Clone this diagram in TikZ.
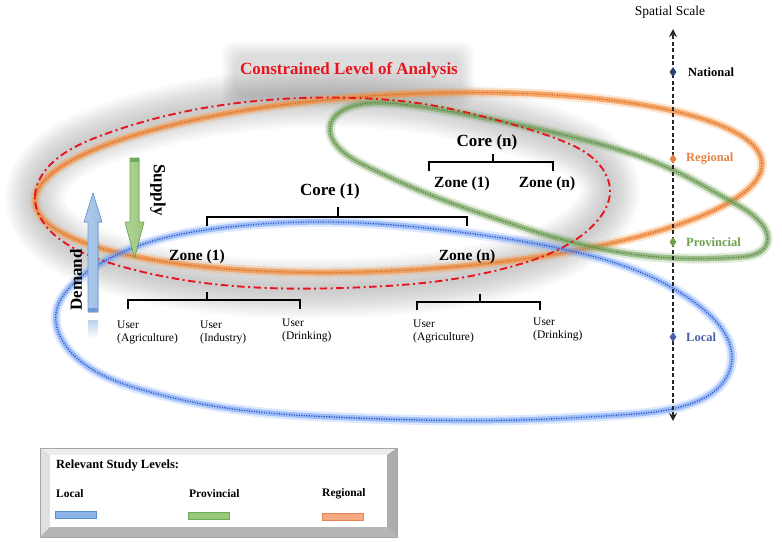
\documentclass[tikz,border=0pt]{standalone}
\usepackage{fontspec}
\setmainfont{Liberation Serif}
\usetikzlibrary{arrows.meta,shapes.geometric,hobby}

\definecolor{regOrange}{RGB}{243,145,65}
\definecolor{regOrangeDark}{RGB}{215,100,30}
\definecolor{provGreen}{RGB}{120,165,95}
\definecolor{provGreenDark}{RGB}{75,130,60}
\definecolor{locBlue}{RGB}{105,155,245}
\definecolor{locBlueDark}{RGB}{45,80,190}
\definecolor{conRed}{RGB}{232,20,30}
\definecolor{axisNavy}{RGB}{45,60,115}
\definecolor{localLabel}{RGB}{75,95,170}
\definecolor{regLabel}{RGB}{228,130,70}
\definecolor{provLabel}{RGB}{110,160,80}
\definecolor{demandFill}{RGB}{155,190,230}
\definecolor{demandEdge}{RGB}{110,155,215}
\definecolor{supplyFill}{RGB}{155,200,125}
\definecolor{supplyEdge}{RGB}{110,170,90}

% outlines of the four study areas
\newcommand{\regionalShape}{[rotate around={3.07:(398.5,182.5)}] (398.5,182.5) ellipse [x radius=364, y radius=88]}
\newcommand{\provincialShape}{plot[closed hobby] coordinates {(330,127) (350,107) (400,104) (480,117) (560,134) (620,150) (673,170) (727,199) (760,222) (767,243) (740,257) (673,258) (612,251) (560,239) (500,220) (433,196) (370,168) (338,147)}}
\newcommand{\localShape}{plot[closed hobby] coordinates {(56,313) (70,287) (103,262) (153,241) (220,228) (333,222) (467,233) (567,250) (640,272) (698,305) (724,332) (732,358) (721,385) (690,404) (620,415) (520,420) (420,420) (333,417) (233,409) (150,392) (90,368) (62,340)}}
\newcommand{\constrainedShape}{plot[closed hobby] coordinates {(35,196) (50,165) (100,136) (183,112) (267,100) (357,98) (430,105) (500,121) (560,140) (597,162) (610,192) (598,220) (567,245) (510,267) (440,281) (367,287) (267,288) (190,281) (120,266) (70,246) (43,222)}}

\tikzset{
  haze/.style={draw=black, opacity=0.014, line join=round},
  bandOuter/.style={line width=10pt, opacity=0.22},
  bandInner/.style={line width=5.5pt, opacity=0.55},
  bandDots/.style={line width=1.3pt, dash pattern=on 1.1pt off 1.4pt},
  dashdot/.style={draw=conRed, line width=1.9pt, dash pattern=on 7.5pt off 3.5pt on 2pt off 3.5pt},
  bracket/.style={draw=black, line width=2pt},
  coreText/.style={font=\bfseries\fontsize{17}{20}\selectfont, inner sep=0pt},
  zoneText/.style={font=\bfseries\fontsize{15.5}{18}\selectfont, inner sep=0pt},
  userText/.style={font=\fontsize{11.5}{13}\selectfont, align=left, anchor=north west, inner sep=0pt},
  scaleMark/.style={diamond, inner sep=0pt, minimum width=7pt, minimum height=10pt},
  scaleLabel/.style={font=\bfseries\fontsize{12.5}{15}\selectfont, anchor=west, inner sep=0pt},
  legendHead/.style={font=\bfseries\fontsize{12.5}{15}\selectfont, anchor=west, inner sep=0pt},
  legendItem/.style={font=\bfseries\fontsize{11.5}{14}\selectfont, anchor=west, inner sep=0pt},
}

\begin{document}
\begin{tikzpicture}[x=1pt,y=-1pt]
\useasboundingbox (0,0) rectangle (782,541);

% soft grey haze along the constrained area
\foreach \w in {60,56,...,8}
  \draw[haze, line width=\w pt] \constrainedShape;
\foreach \d in {0,2,...,12}
  \fill[black, opacity=0.02, rounded corners=12pt] (234-\d,54-\d) rectangle (462+\d,96+\d);

% regional (orange)
\draw[regOrange, bandOuter] \regionalShape;
\draw[regOrange, bandInner, opacity=0.7] \regionalShape;
\draw[regOrangeDark, bandDots] \regionalShape;

% provincial (green)
\draw[provGreen, bandOuter] \provincialShape;
\draw[provGreen, bandInner, opacity=0.65] \provincialShape;
\draw[provGreenDark, bandDots] \provincialShape;

% local (blue)
\draw[locBlue, bandOuter] \localShape;
\draw[locBlue, bandInner] \localShape;
\draw[locBlueDark, bandDots] \localShape;

% constrained level (red dash-dot)
\draw[dashdot] \constrainedShape;

\node[coreText, text=conRed] (title) at (349,70) {Constrained Level of Analysis};

% demand and supply arrows
\fill[left color=demandFill!80!white, right color=demandFill, draw=demandEdge, line width=0.6pt]
  (88,312) -- (88,222) -- (84,222) -- (93,193) -- (102,222) -- (98,222) -- (98,312) -- cycle;
\fill[demandEdge] (88,308) rectangle (98,312);
\fill[top color=demandFill!70!white, bottom color=white] (88,320) rectangle (98,338);
\node[coreText, rotate=90] (demand) at (76,280) {Demand};

\fill[left color=supplyFill!80!white, right color=supplyFill, draw=supplyEdge, line width=0.6pt]
  (130,158) -- (139,158) -- (139,222) -- (144,222) -- (134.5,258) -- (125,222) -- (130,222) -- cycle;
\fill[supplyEdge] (130,158) rectangle (139,162);
\node[coreText, rotate=-90] (supply) at (158,190) {Supply};

% hierarchy: cores, zones, users
\node[coreText] (core1) at (330,191) {Core (1)};
\node[coreText] (coren) at (487,142) {Core (n)};
\node[zoneText] (zn1) at (462,184) {Zone (1)};
\node[zoneText] (znn) at (547,184) {Zone (n)};
\node[zoneText] (z11) at (197,257) {Zone (1)};
\node[zoneText] (z1n) at (467,257) {Zone (n)};

\node[userText] (u1) at (117,321) {User\\(Agriculture)};
\node[userText] (u2) at (200,321) {User\\(Industry)};
\node[userText] (u3) at (282,319) {User\\(Drinking)};
\node[userText] (u4) at (413,320) {User\\(Agriculture)};
\node[userText] (u5) at (533,318) {User\\(Drinking)};

% brackets
\draw[bracket] (338,207) -- (338,217);
\draw[bracket] (207,226) -- (207,217) -- (467,217) -- (467,226);
\draw[bracket] (493,154) -- (493,162);
\draw[bracket] (429,171) -- (429,162) -- (553,162) -- (553,171);
\draw[bracket] (207,292) -- (207,300);
\draw[bracket] (128,309) -- (128,300) -- (300,300) -- (300,309);
\draw[bracket] (480,294) -- (480,302);
\draw[bracket] (417,310) -- (417,302) -- (540,302) -- (540,310);

% spatial scale axis
\node[font=\fontsize{13.5}{16}\selectfont, inner sep=0pt] (scale) at (670,12) {Spatial Scale};
\coordinate (axTop) at (673,29);
\coordinate (axBot) at (673,421);
\draw[black!85, line width=1.6pt, dash pattern=on 4pt off 2.5pt,
      {Stealth[length=8pt,width=8pt]}-{Stealth[length=8pt,width=8pt]}] (axBot) -- (axTop);

\node[scaleMark, fill=axisNavy] (mNat) at (673,72) {};
\node[scaleLabel] (lNat) at (688,72) {National};
\node[scaleMark, fill=regLabel] (mReg) at (673,159) {};
\node[scaleLabel, text=regLabel] (lReg) at (686,159) {Regional};
\node[scaleMark, fill=provLabel] (mProv) at (673,242) {};
\node[scaleLabel, text=provLabel] (lProv) at (686,242) {Provincial};
\node[scaleMark, fill=localLabel] (mLoc) at (673,337) {};
\node[scaleLabel, text=localLabel] (lLoc) at (686,337) {Local};

% legend box with bevelled frame
\fill[gray!14] (40,448) -- (397,448) -- (387,455) -- (50,455) -- cycle;
\fill[gray!24] (40,448) -- (50,455) -- (50,527) -- (40,537) -- cycle;
\fill[gray!58] (40,537) -- (50,527) -- (387,527) -- (397,537) -- cycle;
\fill[gray!64] (397,448) -- (387,455) -- (387,527) -- (397,537) -- cycle;
\fill[white] (50,455) rectangle (387,527);
\draw[gray!70, line width=0.6pt] (40,448) rectangle (397,537);

\node[legendHead] (lgHead) at (56,466) {Relevant Study Levels:};
\node[legendItem] (lgLoc) at (56,494) {Local};
\node[legendItem] (lgProv) at (189,494) {Provincial};
\node[legendItem] (lgReg) at (322,494) {Regional};
\draw[fill={rgb,255:red,140;green,180;blue,230}, draw={rgb,255:red,90;green,140;blue,210}, line width=0.6pt] (55,511) rectangle (96,518);
\draw[fill={rgb,255:red,150;green,200;blue,120}, draw={rgb,255:red,110;green,170;blue,90}, line width=0.6pt] (188,512) rectangle (229,519);
\draw[fill={rgb,255:red,245;green,170;blue,130}, draw={rgb,255:red,235;green,130;blue,90}, line width=0.6pt] (322,513) rectangle (363,520);
\end{tikzpicture}
\end{document}
